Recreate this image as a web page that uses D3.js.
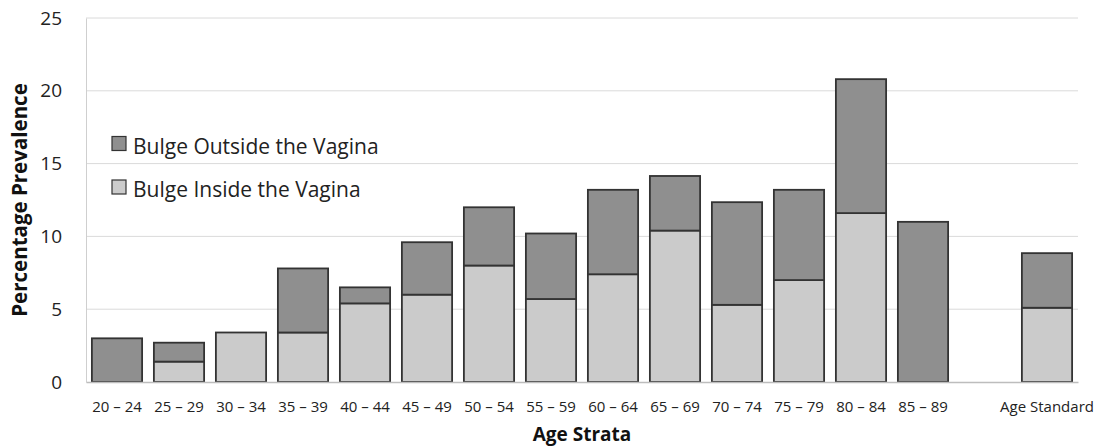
<!DOCTYPE html>
<html><head><meta charset="utf-8">
<script src="https://cdn.jsdelivr.net/npm/d3@7"></script>
<style>body{margin:0;background:#fff;} svg{display:block;font-family:"Open Sans", sans-serif;}</style>
</head><body>
<svg id="chart" width="1096" height="448"></svg>
<script>
const categories = ["20 – 24","25 – 29","30 – 34","35 – 39","40 – 44","45 – 49","50 – 54","55 – 59","60 – 64","65 – 69","70 – 74","75 – 79","80 – 84","85 – 89","","Age Standard"];
const insideValues  = [0, 1.4, 3.4, 3.4, 5.4, 6.0, 8.0, 5.7, 7.4, 10.4, 5.3, 7.0, 11.6, 0, null, 5.1];
const outsideValues = [3.0, 1.3, 0, 4.4, 1.1, 3.6, 4.0, 4.5, 5.8, 3.75, 7.05, 6.2, 9.2, 11.0, null, 3.75];
const yTicks = [0, 5, 10, 15, 20, 25];
const seriesNames = ["Bulge Outside the Vagina", "Bulge Inside the Vagina"];
const seriesColors = ["#8f8f8f", "#cbcbcb"];

const svg = d3.select("#chart");
const m = {left: 86, right: 18, top: 18, bottom: 66};
const W = 1096, H = 448;
const x = d3.scaleBand().domain(categories.map((c,i)=>i)).range([m.left, W - m.right]).paddingInner(0.19).paddingOuter(0.095);
const y = d3.scaleLinear().domain([0, 25]).range([H - m.bottom, m.top]);

// gridlines
svg.append("g").selectAll("line").data(yTicks.filter(t=>t>0)).join("line")
  .attr("x1", m.left).attr("x2", W - m.right)
  .attr("y1", d=>y(d)).attr("y2", d=>y(d))
  .attr("stroke", "#dadada").attr("stroke-width", 1);

// y axis
const yAxis = svg.append("g").attr("transform", `translate(${m.left},0)`)
  .call(d3.axisLeft(y).tickValues(yTicks).tickSize(0).tickPadding(24));
yAxis.select(".domain").attr("stroke", "#cfcfcf");
yAxis.selectAll("text").attr("font-size", 19).attr("fill", "#222").attr("font-family", "'Open Sans', sans-serif");

// bars
const data = categories.map((c,i)=>({i, inside: insideValues[i], outside: outsideValues[i]})).filter(d=>d.inside!==null);
const g = svg.append("g");
data.forEach(d=>{
  const bx = x(d.i), bw = x.bandwidth();
  if (d.inside > 0) {
    g.append("rect").attr("x", bx).attr("width", bw)
      .attr("y", y(d.inside)).attr("height", y(0) - y(d.inside))
      .attr("fill", seriesColors[1]).attr("stroke", "#333").attr("stroke-width", 1.8);
  }
  if (d.outside > 0) {
    g.append("rect").attr("x", bx).attr("width", bw)
      .attr("y", y(d.inside + d.outside)).attr("height", y(d.inside) - y(d.inside + d.outside))
      .attr("fill", seriesColors[0]).attr("stroke", "#333").attr("stroke-width", 1.8);
  }
});

// x axis
const xAxis = svg.append("g").attr("transform", `translate(0,${y(0)})`)
  .call(d3.axisBottom(x).tickFormat(i=>categories[i]).tickSize(0).tickPadding(19));
xAxis.select(".domain").attr("stroke", "#bdbdbd").attr("stroke-width", 1.5);
xAxis.selectAll("text").attr("font-size", 15).attr("fill", "#222").attr("font-family", "'Open Sans', sans-serif");

// axis titles
svg.append("text").attr("x", (m.left + W - m.right)/2).attr("y", 441)
  .attr("text-anchor", "middle").attr("font-size", 19).attr("font-weight", "bold").attr("fill", "#111")
  .text("Age Strata");
svg.append("text").attr("transform", `translate(26.5,${(m.top + H - m.bottom)/2}) rotate(-90)`)
  .attr("text-anchor", "middle").attr("font-size", 20.5).attr("font-weight", "bold").attr("fill", "#111")
  .text("Percentage Prevalence");

// legend
const leg = svg.append("g");
seriesNames.forEach((n, k)=>{
  const ly = 136.5 + k*43.5;
  leg.append("rect").attr("x", 112).attr("y", ly).attr("width", 14).attr("height", 14)
    .attr("fill", seriesColors[k]).attr("stroke", "#333").attr("stroke-width", 1.2);
  leg.append("text").attr("x", 133).attr("y", ly + 17).attr("font-size", 21).attr("fill", "#222")
    .text(n);
});
</script>
</body></html>
